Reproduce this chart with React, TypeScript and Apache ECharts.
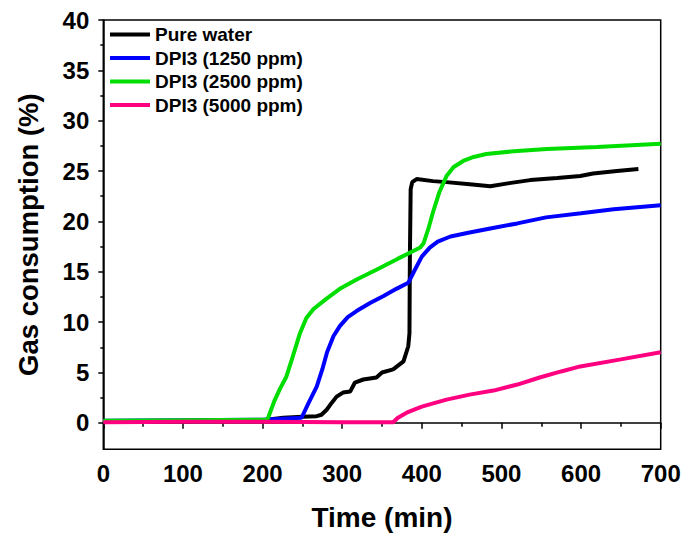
import React, { useEffect, useRef } from "react";
import * as echarts from "echarts";

const FONT = "'Liberation Sans', Arial, sans-serif";

const seriesNames = ["Pure water", "DPI3 (1250 ppm)", "DPI3 (2500 ppm)", "DPI3 (5000 ppm)"];
const seriesColors = ["#000000", "#0000FF", "#00DD00", "#FF0080"];

const waterTime = [0, 50, 100, 150, 200, 226, 250, 268, 274, 280.5, 287, 293, 301, 310, 316, 326.5, 343, 350, 364, 377, 383, 384.5, 385, 386, 388, 393.5, 414, 431, 460, 486, 510, 536, 570, 599, 615, 645, 672];
const waterValue = [0.1, 0.1, 0.15, 0.2, 0.25, 0.5, 0.6, 0.66, 0.8, 1.3, 2.0, 2.6, 3.0, 3.1, 4.0, 4.3, 4.5, 5.0, 5.3, 6.1, 7.6, 8.9, 16.2, 23.2, 23.9, 24.2, 24.0, 23.9, 23.7, 23.5, 23.8, 24.1, 24.3, 24.5, 24.75, 25.0, 25.2];

const dpi1250Time = [0, 100, 200, 249, 258, 268, 275, 281, 289, 297, 307, 318, 335, 352, 368, 383, 390, 400, 410, 420, 436, 460, 486, 520, 556, 600, 641, 700];
const dpi1250Value = [0.2, 0.25, 0.3, 0.5, 2.0, 3.6, 5.3, 7.0, 8.6, 9.6, 10.5, 11.1, 11.9, 12.6, 13.3, 13.9, 15.0, 16.5, 17.4, 18.0, 18.5, 18.9, 19.3, 19.8, 20.4, 20.8, 21.2, 21.6];

const dpi2500Time = [0, 100, 205, 207, 215, 222, 230, 238, 247, 255, 264, 280, 297, 320, 343, 370, 398, 402, 408, 414, 422, 431, 440, 452, 465, 481, 520, 557, 620, 700];
const dpi2500Value = [0.2, 0.25, 0.3, 0.5, 2.2, 3.4, 4.6, 6.6, 8.9, 10.4, 11.3, 12.3, 13.3, 14.3, 15.2, 16.3, 17.4, 17.8, 19.2, 20.9, 22.9, 24.5, 25.4, 26.0, 26.4, 26.7, 27.0, 27.2, 27.4, 27.7];

const dpi5000Time = [0, 100, 200, 300, 364, 370, 381, 400, 431, 460, 490, 520, 548, 575, 599, 650, 700];
const dpi5000Value = [0.05, 0.1, 0.1, 0.05, 0.05, 0.5, 1.0, 1.6, 2.3, 2.8, 3.2, 3.8, 4.5, 5.1, 5.6, 6.3, 7.0];

const xTicks = { min: 0, max: 700, interval: 100 };
const yTicks = { min: 0, max: 40, interval: 5 };

const seriesTimes = [waterTime, dpi1250Time, dpi2500Time, dpi5000Time];
const seriesValues = [waterValue, dpi1250Value, dpi2500Value, dpi5000Value];

export default function App() {
  const ref = useRef<HTMLDivElement>(null);
  useEffect(() => {
    document.body.style.margin = "0";
    if (!ref.current) return;
    const chart = echarts.init(ref.current, undefined, { renderer: "svg" });
    const W = 684, H = 538;
    const left = 103.3, right = W - 660.7, top = 20;
    const bottomMain = H - 449.3;
    const zeroY = 422.8;
    const bottomLabel = H - zeroY;
    const yMinMain = -((449.3 - zeroY) / ((zeroY - top) / yTicks.max));

    const bold = { fontFamily: FONT, fontWeight: "bold" as const, color: "#000" };

    chart.setOption({
      animation: false,
      backgroundColor: "#fff",
      grid: [
        { left, right, top, bottom: bottomMain, show: true, borderColor: "#000", borderWidth: 1.5, backgroundColor: "transparent" },
        { left, right, top, bottom: bottomLabel, show: false },
      ],
      legend: {
        left: 110,
        top: 25,
        padding: 0,
        orient: "vertical",
        icon: "rect",
        itemWidth: 40,
        itemHeight: 4,
        itemGap: 4.5,
        textStyle: { ...bold, fontSize: 19 },
        data: seriesNames,
      },
      xAxis: [
        {
          type: "value",
          gridIndex: 0,
          min: xTicks.min,
          max: xTicks.max,
          interval: xTicks.interval,
          axisLine: { show: true, lineStyle: { color: "#000", width: 1.5 } },
          axisTick: { show: true, inside: false, length: 6, lineStyle: { color: "#000", width: 1.5 } },
          minorTick: { show: true, splitNumber: 2, length: 4, lineStyle: { color: "#000", width: 1.5 } },
          splitLine: { show: false },
          axisLabel: { ...bold, fontSize: 24, margin: 12 },
          name: "Time (min)",
          nameLocation: "middle",
          nameGap: 54,
          nameTextStyle: { ...bold, fontSize: 28 },
        },
        {
          type: "value",
          gridIndex: 1,
          min: xTicks.min,
          max: xTicks.max,
          show: false,
        },
      ],
      yAxis: [
        {
          type: "value",
          gridIndex: 0,
          min: yMinMain,
          max: yTicks.max,
          axisLine: { show: true, lineStyle: { color: "#000", width: 1.5 } },
          axisTick: { show: false },
          axisLabel: { show: false },
          splitLine: { show: false },
          name: "Gas consumption (%)",
          nameLocation: "middle",
          nameGap: 61,
          nameTextStyle: { ...bold, fontSize: 27.5 },
        },
        {
          type: "value",
          gridIndex: 1,
          min: yTicks.min,
          max: yTicks.max,
          interval: yTicks.interval,
          axisLine: { show: false },
          axisTick: { show: true, inside: false, length: 5, lineStyle: { color: "#000", width: 1.5 } },
          minorTick: { show: true, splitNumber: 2, length: 3, lineStyle: { color: "#000", width: 1.5 } },
          splitLine: { show: false },
          axisLabel: { ...bold, fontSize: 24, margin: 14 },
        },
      ],
      series: seriesNames.map((name, i) => ({
        name,
        type: "line",
        xAxisIndex: 0,
        yAxisIndex: 0,
        showSymbol: false,
        symbol: "none",
        smooth: false,
        color: seriesColors[i],
        lineStyle: { color: seriesColors[i], width: 4 },
        data: seriesTimes[i].map((t, j) => [t, seriesValues[i][j]]),
        z: 2 + i,
      })),
    });
    return () => chart.dispose();
  }, []);
  return <div ref={ref} style={{ width: 684, height: 538, overflow: "hidden" }} />;
}
